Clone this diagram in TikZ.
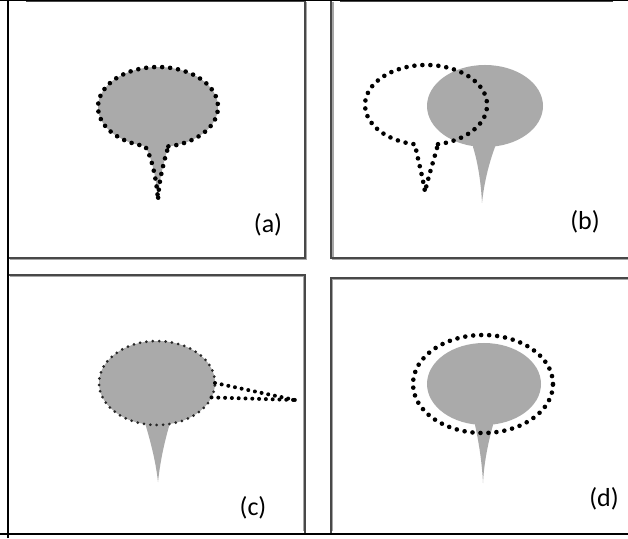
\documentclass[tikz,border=0pt]{standalone}
\usepackage{fontspec}
\setmainfont{Carlito}
\definecolor{balloongray}{RGB}{170,170,170}
\definecolor{framecol}{RGB}{72,72,72}
\begin{document}
\begin{tikzpicture}[x=1pt,y=1pt,
  panel/.style={draw=framecol, line width=1.8pt},
  shadowline/.style={draw=black!35, line width=1.4pt},
  dots/.style={draw=black, line width=4.6pt, line cap=round, dash pattern=on 0pt off 8pt},
  finedots/.style={draw=black!85, line width=3pt, line cap=round, dash pattern=on 0pt off 6.4pt},
  taildots/.style={draw=black, line width=4pt, line cap=round, dash pattern=on 0pt off 6.8pt},
  lab/.style={font=\fontsize{26}{30}\selectfont, text=black, inner sep=0pt}]
\useasboundingbox (0,0) rectangle (628,538);
\fill[white] (0,0) rectangle (628,538);

% ---------- panel frames ----------
\draw[shadowline] (306.5,536) -- (306.5,278.5) -- (10,278.5);
\draw[panel] (26,537) -- (305,537) -- (305,280) -- (8,280);
\draw[shadowline] (333,536) -- (333,278.5) -- (628,278.5);
\draw[panel] (331,537) -- (331,280) -- (628,280);
\draw[panel] (340,537) -- (613,537);
\draw[shadowline] (10,261.5) -- (303.5,261.5) -- (303.5,7);
\draw[panel] (8,263) -- (305,263) -- (305,5);
\draw[shadowline] (628,258.5) -- (332.5,258.5) -- (332.5,7);
\draw[panel] (628,260) -- (331,260) -- (331,5);

% outer black lines
\draw[black, line width=2.6pt] (8,0) -- (8,538);
\draw[black, line width=2pt] (0,4) -- (628,4);
\draw[black, line width=1pt] (0,537.8) -- (628,537.8);

% ---------- (a) ----------
\fill[balloongray] (168.4,391.6) arc[start angle=280, end angle=617.5, x radius=60, y radius=40]
  .. controls (150,384) and (156,365) .. (158,338)
  .. controls (159,360) and (165,380) .. (168.4,391.6) -- cycle;
\draw[dots] (168.4,391.6) arc[start angle=280, end angle=617.5, x radius=60, y radius=40]
  .. controls (150,384) and (156,365) .. (158,338)
  .. controls (159,360) and (165,380) .. (168.4,391.6);
\node[lab] (la) at (268,313) {(a)};

% ---------- (b) ----------
\fill[balloongray] (485,432) ellipse[x radius=58, y radius=41];
\fill[balloongray] (473,400) -- (473,391) .. controls (478,375) and (481,355) .. (482,335)
  .. controls (484,355) and (489,375) .. (495,391) -- (495,400) -- cycle;
\draw[dots] (438,393.8) arc[start angle=281.3, end angle=619.6, x radius=61, y radius=40]
  .. controls (417,382) and (423,360) .. (425,346)
  .. controls (428,360) and (435,382) .. (438,393.8);
\node[lab] (lb) at (585,316) {(b)};

% ---------- (c) ----------
\fill[balloongray] (157,155) ellipse[x radius=58, y radius=42];
\fill[balloongray] (145,125) -- (145,115) .. controls (151,95) and (156,75) .. (158,56)
  .. controls (160,75) and (164,95) .. (170,115) -- (170,125) -- cycle;
\draw[finedots] (157,155) ellipse[x radius=58, y radius=42];
\draw[taildots] (215,155) -- (295,138);
\draw[taildots] (211.5,140.6) -- (295,138);
\node[lab] (lc) at (253,30) {(c)};

% ---------- (d) ----------
\fill[balloongray] (484,154) ellipse[x radius=57, y radius=41];
\fill[balloongray] (475,125) -- (475,113) .. controls (479,95) and (482,75) .. (483,55)
  .. controls (484,75) and (488,95) .. (493,113) -- (493,125) -- cycle;
\draw[dots] (483,154) ellipse[x radius=70, y radius=49];
\node[lab] (ld) at (604,39) {(d)};
\end{tikzpicture}
\end{document}
